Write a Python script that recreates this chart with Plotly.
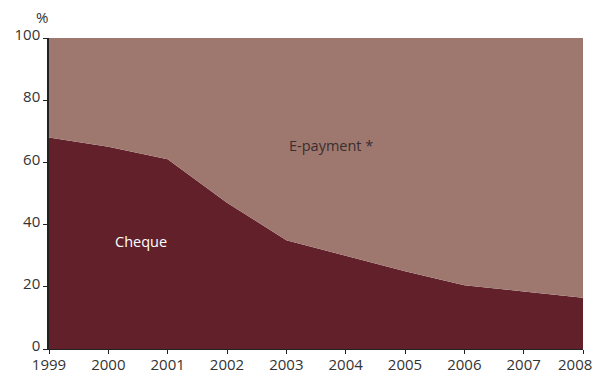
import plotly.graph_objects as go

years = [1999, 2000, 2001, 2002, 2003, 2004, 2005, 2006, 2007, 2008]
cheque = [68, 65, 61, 47, 35, 30, 25, 20.5, 18.5, 16.5]
epayment = [32, 35, 39, 53, 65, 70, 75, 79.5, 81.5, 83.5]
y_ticks = [0, 20, 40, 60, 80, 100]
x_labels = [str(y) for y in years]

font = "Open Sans, Liberation Sans, sans-serif"
fsize = 15

fig = go.Figure()
fig.add_trace(go.Scatter(x=years, y=cheque, stackgroup="one", mode="none",
                         fillcolor="#62212A", name="Cheque"))
fig.add_trace(go.Scatter(x=years, y=epayment, stackgroup="one", mode="none",
                         fillcolor="#9E786F", name="E-payment *"))

fig.add_annotation(x=2000.55, y=34.5, text="Cheque", showarrow=False,
                   font=dict(color="white", size=14.5, family=font))
fig.add_annotation(x=2003.75, y=65.5, text="E-payment *", showarrow=False,
                   font=dict(color="#3a2e2e", size=14.5, family=font))
fig.add_annotation(xref="paper", yref="paper", x=-0.013, y=1.0675, text="%",
                   showarrow=False, xanchor="center", yanchor="middle",
                   font=dict(color="#333333", size=fsize, family=font))
# last year label sits slightly left of its tick so that it fits the frame
fig.add_annotation(x=years[-1], xref="x", yref="paper", y=0, text=x_labels[-1],
                   showarrow=False, xanchor="center", yanchor="middle",
                   height=16, borderpad=0, valign="middle",
                   xshift=-8, yshift=-15,
                   font=dict(color="#333333", size=fsize, family=font))

# the page body has an 8px margin, so the figure is drawn 8px smaller
fig.update_layout(
    width=592, height=365,
    margin=dict(l=41, r=17, t=30, b=24),
    paper_bgcolor="white", plot_bgcolor="white",
    showlegend=False,
    font=dict(family=font, size=fsize, color="#333333"),
)
fig.update_xaxes(range=[1999, 2008], tickvals=years,
                 ticktext=x_labels[:-1] + [""],
                 showgrid=False, zeroline=False,
                 showline=True, linecolor="#222", linewidth=1, automargin=False,
                 ticks="outside", ticklen=4, tickcolor="#222",
                 ticklabelstandoff=-2)
fig.update_yaxes(range=[0, 100], tickvals=y_ticks, showgrid=False, zeroline=False,
                 showline=True, linecolor="#222", linewidth=1.5, automargin=False,
                 ticks="outside", ticklen=4, tickcolor="#222",
                 ticklabelshift=-3)

fig.write_html("out.html")
